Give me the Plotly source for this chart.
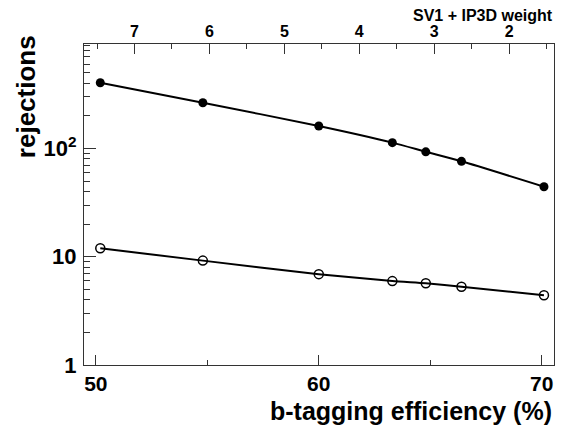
import plotly.graph_objects as go

# b-tagging efficiency (%)
eff_light = [50.2, 54.8, 60.0, 63.3, 64.8, 66.4, 70.1]
rej_light = [404, 264, 161, 113, 93, 76, 44.3]

eff_charm = [50.2, 54.8, 60.0, 63.3, 64.8, 66.4, 70.1]
rej_charm = [11.95, 9.2, 6.9, 5.95, 5.68, 5.28, 4.4]

weight_ticks = [7, 6, 5, 4, 3, 2]
y_tickvals = [1, 10, 100]
y_ticktext = ["1", "10", "10<sup>2</sup>"]

FONT = "Liberation Sans, Arial, Helvetica, sans-serif"
AXC = "#333333"

fig = go.Figure()
fig.add_trace(go.Scatter(
    x=eff_light, y=rej_light, mode="lines+markers",
    line=dict(color="black", width=2, shape="spline", smoothing=0.6),
    marker=dict(symbol="circle", size=9, color="black"),
    showlegend=False))
fig.add_trace(go.Scatter(
    x=eff_charm, y=rej_charm, mode="lines+markers",
    line=dict(color="black", width=2, shape="spline", smoothing=0.6),
    marker=dict(symbol="circle-open", size=9, color="black", line=dict(width=1.5)),
    showlegend=False))
# invisible trace to anchor the top axis
fig.add_trace(go.Scatter(
    x=[weight_ticks[0], weight_ticks[-1]], y=[1, 1], xaxis="x2", mode="markers",
    marker=dict(opacity=0), hoverinfo="skip", showlegend=False))

fig.update_layout(
    width=561, height=425,
    margin=dict(l=84, r=7, t=44, b=60),
    paper_bgcolor="white", plot_bgcolor="white",
    font=dict(family=FONT, color="black"),
    xaxis=dict(
        range=[49.47, 70.55], tickvals=[50, 60, 70],
        ticks="inside", ticklen=10, tickcolor=AXC, tickwidth=1,
        minor=dict(dtick=5, tick0=0, ticks="inside", ticklen=5, tickcolor=AXC),
        showline=True, linecolor=AXC, linewidth=1, mirror=False,
        showgrid=False, zeroline=False,
        tickfont=dict(size=21, family=FONT, weight="bold"),
        ticklabelstandoff=0,
    ),
    xaxis2=dict(
        overlaying="x", side="top", anchor="y",
        range=[7.674, 1.402], tickvals=weight_ticks,
        ticks="inside", ticklen=10, tickcolor=AXC, tickwidth=1,
        minor=dict(dtick=0.5, tick0=0, ticks="inside", ticklen=5, tickcolor=AXC),
        showline=True, linecolor=AXC, linewidth=1,
        showgrid=False, zeroline=False,
        tickfont=dict(size=16, family=FONT, weight="bold"),
    ),
    yaxis=dict(
        type="log", range=[0, 2.964],
        tickvals=y_tickvals, ticktext=y_ticktext,
        ticks="inside", ticklen=12, tickcolor=AXC, tickwidth=1,
        minor=dict(dtick="D1", ticks="inside", ticklen=6, tickcolor=AXC),
        showline=True, linecolor=AXC, linewidth=1, mirror=True,
        showgrid=False, zeroline=False,
        tickfont=dict(size=22, family=FONT, weight="bold"),
        ticklabelstandoff=2,
    ),
    annotations=[
        dict(text="b-tagging efficiency (%)", xref="paper", yref="paper",
             x=1.0, y=-0.143, xanchor="right", yanchor="middle", showarrow=False,
             font=dict(size=25, family=FONT, weight="bold")),
        dict(text="rejections", xref="paper", yref="paper",
             x=-0.123, y=0.835, xanchor="center", yanchor="middle", textangle=-90,
             showarrow=False, font=dict(size=26, family=FONT, weight="bold")),
        dict(text="SV1 + IP3D weight", xref="paper", yref="paper",
             x=1.003, y=1.09, xanchor="right", yanchor="middle", showarrow=False,
             font=dict(size=16, family=FONT, weight="bold")),
    ],
)

fig.write_html(
    "out.html",
    config={"displayModeBar": False},
    post_script="document.body.style.margin='0';document.body.style.overflow='hidden';",
)
